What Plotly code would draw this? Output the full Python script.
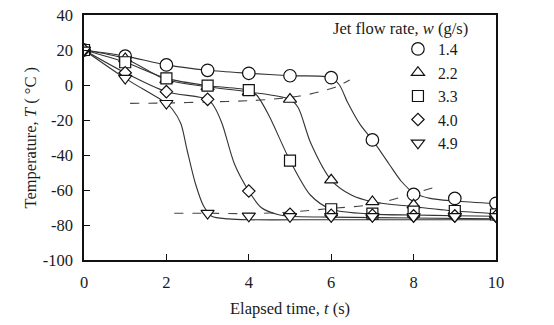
import plotly.graph_objects as go

# Measured temperatures at each elapsed second
time_s = [0, 1, 2, 3, 4, 5, 6, 7, 8, 9, 10]
flow_labels = ["1.4", "2.2", "3.3", "4.0", "4.9"]
temp_w14 = [20, 16.5, 11.5, 8.4, 6.7, 5.3, 4.2, -31.4, -62.5, -64.8, -67.6]
temp_w22 = [20, 15, 3, -1, -4, -8.2, -54.3, -66.7, -68.6, -72, -74]
temp_w33 = [20, 13, 3.8, -0.4, -2.9, -43.2, -71, -73.5, -72.4, -72, -74]
temp_w40 = [20, 7, -3.8, -8.2, -60.6, -73.9, -74.5, -74.5, -74.8, -74.8, -75]
temp_w49 = [20, 3.8, -10.5, -73.3, -74.9, -75.2, -75.2, -75.2, -75.2, -75.2, -75.2]

# Smooth trend curve nodes for each flow rate
curve_w14_t = [0, 1, 2, 3, 4, 5, 6, 6.2, 6.4, 6.7, 7, 7.4, 7.7, 8, 8.4, 9, 10]
curve_w14_T = [20, 16.5, 11.5, 8.4, 6.7, 5.3, 4.2, 0, -10, -22.5, -31.4, -45, -55, -61.5, -64.8, -66.3, -67.8]
curve_w22_t = [0, 1, 2, 3, 4, 5, 5.2, 5.5, 6, 6.5, 7, 8, 9, 10]
curve_w22_T = [20, 15, 3, -1, -4, -8.2, -13, -33, -54.3, -63, -66.7, -69.5, -72, -73.5]
curve_w33_t = [0, 1, 2, 3, 4, 4.2, 4.5, 5, 5.5, 6, 7, 8, 9, 10]
curve_w33_T = [20, 13, 3.8, -0.4, -3, -6, -18, -43.2, -63, -71, -73.8, -74.3, -74.7, -75]
curve_w40_t = [0, 1, 2, 3, 3.15, 3.35, 3.65, 4, 4.3, 4.7, 5, 6, 8, 10]
curve_w40_T = [20, 7, -3.8, -8.2, -12, -22, -45, -60.6, -70, -74, -75, -75.5, -76, -76.5]
curve_w49_t = [0, 1, 2, 2.15, 2.35, 2.5, 2.7, 2.9, 3.1, 3.5, 4, 6, 10]
curve_w49_T = [20, 3.8, -10.5, -14, -22, -37, -56, -69, -75, -76.5, -77, -77, -77]

# Dashed guide lines marking the start and end of the rapid cooling
guide_upper_t = [1.12, 2, 3, 4, 4.6, 5.24, 5.73, 6.13, 6.45]
guide_upper_T = [-10.5, -10.3, -9.7, -9, -8, -6.3, -3.8, -1, 2.9]
guide_lower_t = [2.19, 3, 4, 5, 6, 7, 8, 8.5]
guide_lower_T = [-73.3, -73.3, -73.5, -72.6, -70.5, -68.3, -62, -58.5]

x_ticks = [0, 2, 4, 6, 8, 10]
y_ticks = [40, 20, 0, -20, -40, -60, -80, -100]
y_tick_text = ["40", "20", "0", "-20", "-40", "-60", "-80", "-100"]

FONT = "Liberation Serif"
INK = "#1a1a1a"
LINE = "#333333"

series = [
    (flow_labels[0], temp_w14, curve_w14_t, curve_w14_T, "circle", 12.5),
    (flow_labels[1], temp_w22, curve_w22_t, curve_w22_T, "triangle-up", 11.5),
    (flow_labels[2], temp_w33, curve_w33_t, curve_w33_T, "square", 11),
    (flow_labels[3], temp_w40, curve_w40_t, curve_w40_T, "diamond", 9.5),
    (flow_labels[4], temp_w49, curve_w49_t, curve_w49_T, "triangle-down", 11.5),
]

fig = go.Figure()

for ct, cT in [(guide_upper_t, guide_upper_T), (guide_lower_t, guide_lower_T)]:
    fig.add_trace(go.Scatter(
        x=ct, y=cT, mode="lines", showlegend=False, hoverinfo="skip",
        line=dict(color="#444444", width=1.1, dash="dash", shape="spline", smoothing=0.8),
    ))

for name, temps, ct, cT, sym, size in series:
    fig.add_trace(go.Scatter(
        x=ct, y=cT, mode="lines", showlegend=False, hoverinfo="skip",
        line=dict(color=LINE, width=1.1, shape="spline", smoothing=0.8),
    ))

for name, temps, ct, cT, sym, size in series:
    fig.add_trace(go.Scatter(
        x=time_s, y=temps, mode="markers", name=name,
        marker=dict(symbol=sym, size=size, color="white",
                    line=dict(color="#111111", width=1.2)),
    ))

title_font = dict(family=FONT, size=16.5, color=INK)

fig.update_layout(
    width=554, height=325,
    margin=dict(l=84, r=58, t=15, b=65, autoexpand=False),
    paper_bgcolor="white", plot_bgcolor="white",
    font=dict(family=FONT, size=16.5, color=INK),
    showlegend=True,
    legend=dict(
        x=0.762, y=0.93, xanchor="left", yanchor="top",
        bgcolor="rgba(0,0,0,0)", borderwidth=0,
        font=dict(family=FONT, size=15.8, color=INK),
        itemclick=False,
    ),
    annotations=[
        dict(text="Jet flow rate, <i>w</i> (g/s)", xref="paper", yref="paper",
             x=0.6, y=0.99, xanchor="left", yanchor="top", showarrow=False,
             font=title_font),
        dict(text="Elapsed time, <i>t</i> (s)", xref="paper", yref="paper",
             x=0.5, y=-0.196, xanchor="center", yanchor="middle", showarrow=False,
             font=title_font),
        dict(text="Temperature, <i>T</i> ( °C )", xref="paper", yref="paper",
             x=-0.131, y=0.5, xanchor="center", yanchor="middle", showarrow=False,
             textangle=-90, font=title_font),
    ],
)

fig.update_xaxes(
    range=[0, 10], tickvals=x_ticks, ticks="inside", ticklen=6, tickwidth=1.3,
    tickcolor="#111111", showline=True, linecolor="#111111", linewidth=1.5,
    mirror=True, showgrid=False, zeroline=False, ticklabelstandoff=6,
    automargin=False, tickfont=dict(family=FONT, size=16.5, color=INK),
)
fig.update_yaxes(
    range=[-100, 40], tickvals=y_ticks, ticktext=y_tick_text, ticks="inside",
    ticklen=6, tickwidth=1.3, tickcolor="#111111", showline=True,
    linecolor="#111111", linewidth=1.5, mirror=True, showgrid=False, zeroline=False,
    ticklabelstandoff=6, automargin=False,
    tickfont=dict(family=FONT, size=16.5, color=INK),
)

fig.write_html("out.html")
